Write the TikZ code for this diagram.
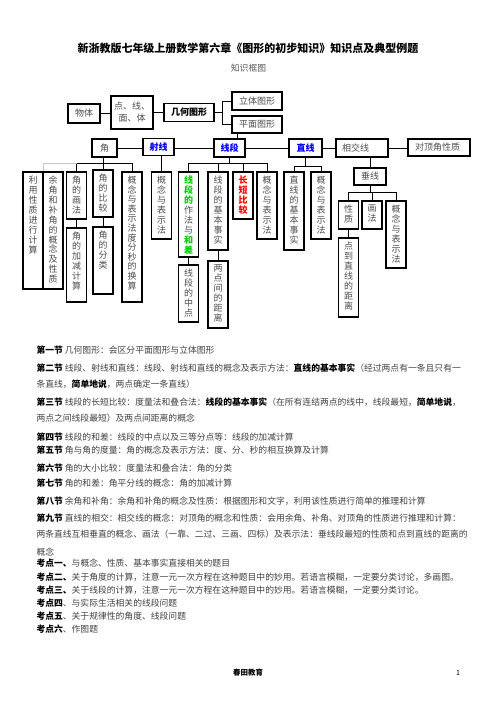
\documentclass[tikz,border=0pt]{standalone}
\usepackage{fontspec}
\setmainfont{Noto Sans CJK SC}
\definecolor{lgreen}{RGB}{0,210,0}
\newcommand{\vt}[2]{\parbox[c][#1pt][t]{9pt}{\centering #2}}
\newcommand{\gb}[1]{\textcolor{lgreen}{\textbf{#1}}}
\newcommand{\hb}[1]{\textcolor{black}{\textbf{#1}}}

\begin{document}
\begin{tikzpicture}[x=1pt,y=-1pt,line width=1pt,
    box/.style={draw,line width=1.1pt,inner sep=0pt,text=black!70,font=\fontsize{9}{10}\selectfont,align=center},
    vbox/.style={box,inner xsep=5.5pt,inner ysep=4pt},
    hl/.style={font=\fontsize{9}{10}\selectfont\bfseries,text=blue},
    txt/.style={anchor=west,inner sep=0pt,text=black!75,font=\fontsize{8.8}{10}\selectfont}]
  \useasboundingbox (0,0) rectangle (496,702);

  \node[font=\fontsize{11}{13}\selectfont\bfseries] (title) at (248,48) {新浙教版七年级上册数学第六章《图形的初步知识》知识点及典型例题};
  \node[text=black!65,font=\fontsize{8.8}{10}\selectfont] (sub) at (248.5,68) {知识框图};

  \node[box,minimum width=32,minimum height=19] (wuti) at (84,113.5) {物体};
  \node[box,minimum width=42,minimum height=33,font=\fontsize{9}{12}\selectfont] (dxmt) at (132,112.5) {点、线、\\面、体};
  \node[box,minimum width=50,minimum height=18,font=\fontsize{9}{10}\selectfont\bfseries,text=black] (jhtx) at (189,112.5) {几何图形};
  \node[box,minimum width=50,minimum height=18] (ltt) at (257,101) {立体图形};
  \node[box,minimum width=50,minimum height=17] (pmt) at (257,124.5) {平面图形};

  \node[box,minimum width=25,minimum height=18] (jiao) at (104.5,148) {角};
  \node[box,hl,minimum width=31,minimum height=17] (shexian) at (158.5,147) {射线};
  \node[box,hl,minimum width=31,minimum height=18] (xianduan) at (229.5,148) {线段};
  \node[box,hl,minimum width=33,minimum height=18] (zhixian) at (305.5,148) {直线};
  \node[box,minimum height=18,inner xsep=6pt,text width=40pt,align=left] (xjx) at (362,148) {相交线};
  \node[box,minimum height=17,inner xsep=7pt,text width=48pt,align=left] (djj) at (439,147.5) {对顶角性质};
  \node[box,minimum width=32,minimum height=17] (chuixian) at (370,176.5) {垂线};

  \node[vbox] (lyxz) at (33,230.5) {\vt{109}{利\\用\\性\\质\\进\\行\\计\\算}};
  \node[vbox] (yjbj) at (53,230.5) {\vt{109}{\fontsize{9}{9.9}\selectfont 余\\角\\和\\补\\角\\的\\概\\念\\及\\性\\质}};
  \node[vbox] (jhf) at (76.5,195.5) {\vt{39}{角\\的\\画\\法}};
  \node[vbox] (jjjs) at (76.5,265) {\vt{66}{角\\的\\加\\减\\计\\算}};
  \node[vbox] (jbj) at (103,193.5) {\vt{39}{角\\的\\比\\较}};
  \node[vbox] (jfl) at (103,260.5) {\vt{59}{角\\的\\分\\类}};
  \node[vbox] (jgn) at (132,237) {\vt{122}{\fontsize{9}{9.6}\selectfont 概\\念\\与\\表\\示\\法\\度\\分\\秒\\的\\换\\算}};
  \node[vbox] (sxgn) at (161.5,205.5) {\vt{59}{概\\念\\与\\表\\示\\法}};
  \node[vbox] (xdzf) at (188.5,214.5) {\vt{77}{\gb{线}\\\gb{段}\\\gb{的}\\作\\法\\与\\\gb{和}\\\gb{差}}};
  \node[vbox] (xdzd) at (188.5,293.5) {\vt{49}{线\\段\\的\\中\\点}};
  \node[vbox] (xdjb) at (218,211) {\vt{70}{线\\段\\的\\基\\本\\事\\实}};
  \node[vbox] (ldjl) at (218,294.5) {\vt{59}{两\\点\\间\\的\\距\\离}};
  \node[vbox,text=red,font=\fontsize{9}{10}\selectfont\bfseries] (cdbj) at (243,195.5) {\vt{39}{长\\短\\比\\较}};
  \node[vbox] (xdgn) at (267,205.5) {\vt{59}{概\\念\\与\\表\\示\\法}};
  \node[vbox] (zxjb) at (294,211) {\vt{70}{直\\线\\的\\基\\本\\事\\实}};
  \node[vbox] (zxgn) at (321,205.5) {\vt{59}{概\\念\\与\\表\\示\\法}};
  \node[vbox] (xz) at (348.5,215) {\vt{20}{性\\质}};
  \node[vbox] (hf) at (372,215) {\vt{20}{画\\法}};
  \node[vbox] (cxgn) at (396,234.5) {\vt{59}{概\\念\\与\\表\\示\\法}};
  \node[vbox] (ddzx) at (348.5,277.5) {\vt{71}{点\\到\\直\\线\\的\\距\\离}};

  \coordinate (bj) at (0,163);
  \coordinate (bz) at (0,166);
  \coordinate (bc) at (0,192);
  \draw (wuti.east) -- (wuti.east -| dxmt.west)
        (dxmt) -- (jhtx)
        (jhtx.east) -- ++(8,0) coordinate (bg)
        (ltt.west) -| (bg) |- (pmt.west)
        ([xshift=7.5pt]xianduan.north) -- ([xshift=7.5pt]xianduan.north |- pmt.south);
  \draw (jiao.east) -- (jiao.east -| shexian.west)
        (shexian.east |- xianduan.west) -- (xianduan.west)
        (xianduan) -- (zhixian)
        (zhixian) -- (xjx)
        (xjx.east) -- (xjx.east -| djj.west);
  \draw (jbj.north) -- (jbj.north |- jiao.south)
        (jhf.north) -- (jhf.north |- bj) -| (jgn.north)
        (jhf.south) -- (jjjs.north)
        (jbj.south) -- (jfl.north);
  \draw[gray!45] (jhf.north |- bj) -- (lyxz.north east |- bj) -- (lyxz.north east);
  \draw (sxgn.north) -- (sxgn.north |- shexian.south);
  \draw (xianduan.south) -- (xianduan.south |- bj)
        (xdzf.north) -- (xdzf.north |- bj) -| (xdgn.north)
        (xdjb.north) -- (xdjb.north |- bj)
        (cdbj.north) -- (cdbj.north |- bj)
        (xdzf.south) -- (xdzd.north)
        (xdjb.south) -- (ldjl.north);
  \draw (zhixian.south) -- (zhixian.south |- bz)
        (zxjb.north) -- (zxjb.north |- bz) -| (zxgn.north);
  \draw (chuixian.north) -- (chuixian.north |- xjx.south)
        (chuixian.south) -- (chuixian.south |- bc)
        (xz.north) -- (xz.north |- bc) -| (cxgn.north)
        (hf.north) -- (hf.north |- bc)
        (xz.south) -- (ddzx.north);

  \node[txt] (s1) at (36,350) {\hb{第一节} 几何图形：会区分平面图形与立体图形};
  \node[txt] (s2) at (36,368) {\hb{第二节} 线段、射线和直线：线段、射线和直线的概念及表示方法：\hb{直线的基本事实}（经过两点有一条且只有一};
  \node[txt] (s2b) at (36,384) {条直线，\hb{简单地说}，两点确定一条直线）};
  \node[txt] (s3) at (36,402) {\hb{第三节} 线段的长短比较：度量法和叠合法：\hb{线段的基本事实}（在所有连结两点的线中，线段最短，\hb{简单地说}，};
  \node[txt] (s3b) at (36,418) {两点之间线段最短）及两点间距离的概念};
  \node[txt] (s4) at (36,437) {\hb{第四节} 线段的和差：线段的中点以及三等分点等：线段的加减计算};
  \node[txt] (s5) at (36,450) {\hb{第五节} 角与角的度量：角的概念及表示方法：度、分、秒的相互换算及计算};
  \node[txt] (s6) at (36,468) {\hb{第六节} 角的大小比较：度量法和叠合法：角的分类};
  \node[txt] (s7) at (36,483) {\hb{第七节} 角的和差：角平分线的概念：角的加减计算};
  \node[txt] (s8) at (36,501) {\hb{第八节} 余角和补角：余角和补角的概念及性质：根据图形和文字，利用该性质进行简单的推理和计算};
  \node[txt] (s9) at (36,518) {\hb{第九节} 直线的相交：相交线的概念：对顶角的概念和性质：会用余角、补角、对顶角的性质进行推理和计算：};
  \node[txt] (s9b) at (36,534) {两条直线互相垂直的概念、画法（一靠、二过、三画、四标）及表示法：垂线段最短的性质和点到直线的距离的};
  \node[txt] (s9c) at (36,552) {概念};
  \node[txt] (k1) at (36,563) {\hb{考点一、}与概念、性质、基本事实直接相关的题目};
  \node[txt] (k2) at (36,577) {\hb{考点二、}关于角度的计算，注意一元一次方程在这种题目中的妙用。若语言模糊，一定要分类讨论，多画图。};
  \node[txt] (k3) at (36,590) {\hb{考点三、}关于线段的计算，注意一元一次方程在这种题目中的妙用。若语言模糊，一定要分类讨论。};
  \node[txt] (k4) at (36,603) {\hb{考点四}、与实际生活相关的线段问题};
  \node[txt] (k5) at (36,616) {\hb{考点五}、关于规律性的角度、线段问题};
  \node[txt] (k6) at (36,629) {\hb{考点六}、作图题};

  \node[font=\fontsize{7.5}{9}\selectfont\bfseries] (foot) at (248,673) {春田教育};
  \node[font=\fontsize{7}{9}\selectfont] (page) at (458,673) {1};
\end{tikzpicture}
\end{document}
